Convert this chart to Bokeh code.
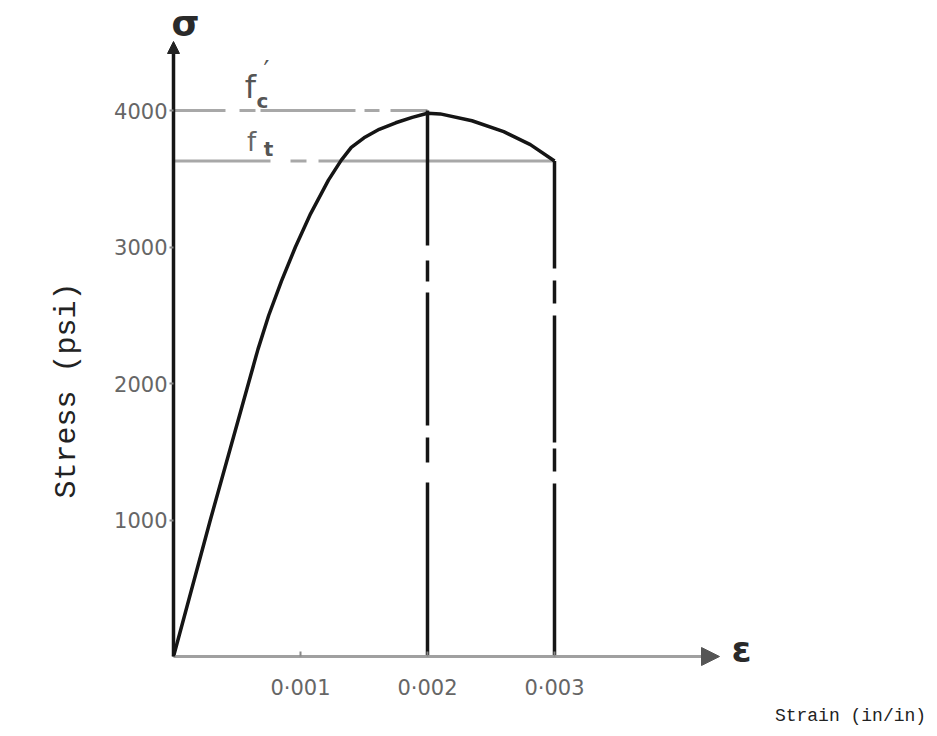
import math
from bokeh.plotting import figure
from bokeh.models import Range1d, FixedTicker, Label, Arrow, NormalHead
from bokeh.embed import file_html
from bokeh.resources import INLINE

# ---------------- data ----------------
strain = [0.0, 0.00029, 0.00059, 0.000665, 0.00075, 0.00085, 0.00096, 0.00108,
          0.00122, 0.00132, 0.00140, 0.00150, 0.00162, 0.00175, 0.00188,
          0.00200, 0.00210, 0.00235, 0.00260, 0.00281, 0.00300]
stress = [0, 1000, 2000, 2250, 2500, 2750, 3000, 3245,
          3490, 3635, 3730, 3800, 3862, 3910, 3950,
          3980, 3975, 3925, 3845, 3750, 3630]
fc_prime = 4000          # f'c
f_t = 3630               # stress at 0.003
eps_peak = 0.002
eps_ult = 0.003
x_ticks = [0.001, 0.002, 0.003]
x_tick_labels = ["0·001", "0·002", "0·003"]
y_ticks = [1000, 2000, 3000, 4000]
y_tick_labels = ["1000", "2000", "3000", "4000"]

# ---------------- layout ----------------
W, H = 929, 728
OX, OY = 173, 656            # pixel position of the origin
PX_PER_STRAIN = 127000.0
PX_PER_PSI = 0.1365


def px(xp):
    return (xp - OX) / PX_PER_STRAIN


def py(yp):
    return (OY - yp) / PX_PER_PSI


p = figure(width=W, height=H,
           x_range=Range1d(px(0), px(W)), y_range=Range1d(py(H), py(0)),
           output_backend="svg", toolbar_location=None,
           min_border=0, min_border_left=0, min_border_right=0,
           min_border_top=0, min_border_bottom=0)
p.outline_line_color = None
p.grid.visible = False
p.background_fill_color = "white"
p.border_fill_color = "white"

TICK_FONT = "DejaVu Sans"
TICK_COLOR = "#666666"

xa = p.xaxis[0]
xa.fixed_location = 0
xa.ticker = FixedTicker(ticks=x_ticks)
xa.major_label_overrides = dict(zip(x_ticks, x_tick_labels))
xa.bounds = (0, px(712))
xa.axis_line_color = "#a0a0a0"
xa.axis_line_width = 3
xa.major_tick_in = 5
xa.major_tick_out = 0
xa.major_tick_line_color = "#888888"
xa.major_tick_line_width = 2
xa.minor_tick_line_color = None
xa.major_label_standoff = 19
xa.major_label_text_font = TICK_FONT
xa.major_label_text_font_size = "21px"
xa.major_label_text_color = TICK_COLOR

ya = p.yaxis[0]
ya.fixed_location = 0
ya.ticker = FixedTicker(ticks=y_ticks)
ya.major_label_overrides = dict(zip(y_ticks, y_tick_labels))
ya.bounds = (0, py(50))
ya.axis_line_color = "#151515"
ya.axis_line_width = 3.5
ya.major_tick_in = 0
ya.major_tick_out = 4
ya.major_tick_line_color = "#888888"
ya.major_tick_line_width = 2
ya.minor_tick_line_color = None
ya.major_label_standoff = 2
ya.major_label_text_font = TICK_FONT
ya.major_label_text_font_size = "21px"
ya.major_label_text_color = TICK_COLOR

# reference lines
p.line([0, eps_peak], [fc_prime, fc_prime], line_color="#a8a8a8", line_width=3,
       line_dash="52 14 16 5 95 9 15 11 300")
p.line([0, eps_ult], [f_t, f_t], line_color="#a8a8a8", line_width=3,
       line_dash="97 20 16 12 500")
p.line([eps_peak, eps_peak], [0, fc_prime], line_color="#151515", line_width=3.5,
       line_dash="174 20 25 12 133 11 21 15 300")
p.line([eps_ult, eps_ult], [0, f_t], line_color="#151515", line_width=3.5,
       line_dash="173 12 23 6 127 12 23 12 300")

# stress-strain curve
p.line(strain, stress, line_color="#151515", line_width=3.5, line_join="round")

# axis arrows
p.add_layout(Arrow(end=NormalHead(size=18, fill_color="#555555", line_color="#555555"),
                   x_start=px(700), y_start=0, x_end=px(719), y_end=0, line_alpha=0.0))
p.add_layout(Arrow(end=NormalHead(size=12, fill_color="#222222", line_color="#222222"),
                   x_start=0, y_start=py(60), x_end=0, y_end=py(41), line_alpha=0.0))

HAND = "DejaVu Sans"


def lab(x, y, text, size, color="#555555", font=HAND, style="normal", angle=0.0):
    p.add_layout(Label(x=x, y=y, text=text, text_font_size=size, text_color=color,
                       text_font=font, text_font_style=style, angle=angle,
                       text_align="center", text_baseline="middle"))


lab(px(185), py(23), "σ", "36px", "#2a2a2a", style="bold")
lab(px(741), py(649), "ε", "36px", "#2a2a2a", style="bold")
lab(px(250), py(86), "f", "32px", "#555555")
lab(px(262), py(100), "c", "20px", "#555555", style="bold")
lab(px(266), py(70), "′", "26px", "#555555")
lab(px(251), py(141), "f", "26px", "#666666")
lab(px(268), py(148), "t", "20px", "#555555", style="bold")
lab(px(66), py(390), "Stress (psi)", "30px", "#222222", font="Liberation Mono",
    angle=math.pi / 2)
lab(px(850), py(715), "Strain (in/in)", "18px", "#222222", font="Liberation Mono")

open("out.html", "w").write(file_html(p, INLINE))
